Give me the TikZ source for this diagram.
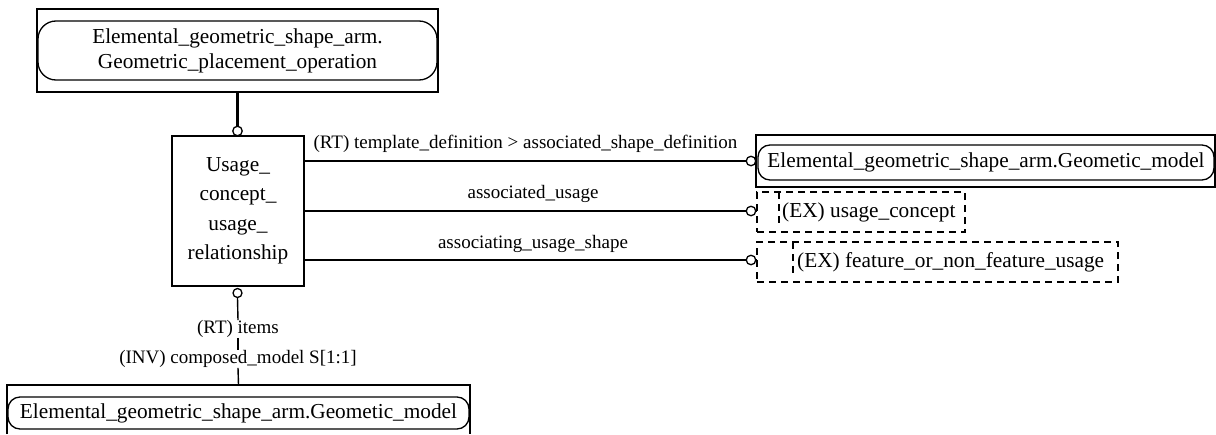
\documentclass[tikz,border=0pt]{standalone}
\usepackage{fontspec}
\setmainfont{Liberation Serif}
\begin{document}
\begin{tikzpicture}[x=1pt,y=-1pt,
  box/.style={draw, line width=1.5pt, inner sep=0pt},
  ent/.style={draw, line width=1.3pt, rounded corners=13pt, inner sep=0pt},
  dbox/.style={draw, line width=1.3pt, dash pattern=on 7pt off 5pt, inner sep=0pt},
  lbl/.style={font=\fontsize{19}{22}\selectfont, inner sep=0pt, fill=white},
  txt/.style={font=\fontsize{21.3}{25}\selectfont, align=center},
  conn/.style={line width=1.4pt},
  ring/.style={circle, draw, line width=1.3pt, fill=white, minimum size=9.5pt, inner sep=0pt}]
\useasboundingbox (0,0) rectangle (1216,434);

% top entity
\node[box, minimum width=401pt, minimum height=83pt] (topo) at (237.5,50.5) {};
\node[ent, minimum width=399pt, minimum height=59pt, txt, rounded corners=18pt] (top) at (237.5,50.5)
  {Elemental\_geometric\_shape\_arm.\\Geometric\_placement\_operation};

% central entity
\node[box, minimum width=132pt, minimum height=150pt, txt, font=\fontsize{21.3}{29.5}\selectfont] (ucur) at (238,211)
  {Usage\_\\concept\_\\usage\_\\relationship};

\node[ring] (tr) at (237.5,131) {};
\draw[line width=3pt] (tr |- topo.south) -- (tr.north);

% right Geometric model
\node[box, minimum width=459pt, minimum height=52pt] (gmo) at (985.5,161) {};
\node[ent, minimum width=456pt, minimum height=35pt, txt, rounded corners=12pt] (gm) at (986,162.5)
  {Elemental\_geometric\_shape\_arm.Geometic\_model};

% dashed boxes
\node[dbox, minimum width=208pt, minimum height=40pt] (db1) at (861,212) {};
\draw[dbox] (779,192) -- (779,223);
\node[txt, anchor=west, inner sep=0pt] (t1) at (782,212) {(EX) usage\_concept};

\node[dbox, minimum width=361pt, minimum height=40pt] (db2) at (937.5,262) {};
\draw[dbox] (793,242) -- (793,273);
\node[txt, anchor=west, inner sep=0pt] (t2) at (797,262) {(EX) feature\_or\_non\_feature\_usage};

% rings on right
\node[ring] (r1) at (751,161) {};
\node[ring] (r2) at (751,211) {};
\node[ring] (r3) at (751,260) {};
\draw[conn] (ucur.east |- r1) -- (r1.west);
\draw[conn] (ucur.east |- r2) -- (r2.west);
\draw[conn] (r2.east) -- (db1.west |- r2);
\draw[conn] (ucur.east |- r3) -- (r3.west);
\draw[conn] (r3.east) -- (db2.west |- r3);

% labels
\node[lbl] (l1) at (525.5,144) {(RT) template\_definition > associated\_shape\_definition};
\node[lbl] (l2) at (533,194) {associated\_usage};
\node[lbl] (l3) at (533,244) {associating\_usage\_shape};

% bottom
\node[ring, minimum size=9pt] (rb) at (237.5,293) {};
\node[lbl] (lb1) at (238,329) {(RT) items};
\node[lbl] (lb2) at (238,359) {(INV) composed\_model S[1:1]};
\node[minimum width=463pt, minimum height=49pt, inner sep=0pt] (boto) at (238.5,409.5) {};
\draw[line width=1.5pt] (boto.south west) |- (boto.north east) -- (boto.south east);
\node[ent, minimum width=461pt, minimum height=32pt, txt, rounded corners=12pt] (bm) at (238.5,413)
  {Elemental\_geometric\_shape\_arm.Geometic\_model};
\draw[conn] (rb.south) -- (lb1.north);
\draw[conn] (lb1.south) -- (lb2.north);
\draw[conn] (lb2.south) -- (boto.north);
\end{tikzpicture}
\end{document}
